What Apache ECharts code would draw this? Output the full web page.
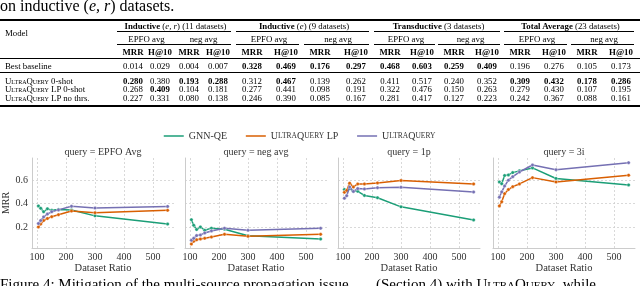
<!DOCTYPE html>
<html><head><meta charset="utf-8">
<script src="https://cdn.jsdelivr.net/npm/echarts/dist/echarts.min.js"></script>
<style>
body{margin:0;width:640px;height:286px;overflow:hidden;background:#fff;position:relative;font-family:'Liberation Serif',serif;color:#000;}
#chart{position:absolute;left:0;top:0;width:640px;height:286px;}
#tbl{position:absolute;left:0;top:0;width:640px;height:286px;}
.t{position:absolute;white-space:nowrap;line-height:10px;transform:translate(-50%,-50%);font-size:8.8px;}
.l{position:absolute;white-space:nowrap;line-height:10px;transform:translate(0,-50%);font-size:8.8px;}
.rule{position:absolute;background:#000;}
.sc{font-variant:small-caps;}
</style></head><body>
<div id="chart"></div>
<div id="tbl"></div>
<script>
// ---------- table data ----------
const tableTitle = 'on inductive (<i>e, r</i>) datasets.';
const groupNames = ['Inductive', 'Inductive', 'Transductive', 'Total Average'];
const groupScopes = ['e, r', 'e', '', ''];
const groupCounts = ['(11 datasets)', '(9 datasets)', '(3 datasets)', '(23 datasets)'];
const subHeaders = ['EPFO avg', 'neg avg', 'EPFO avg', 'neg avg', 'EPFO avg', 'neg avg', 'EPFO avg', 'neg avg'];
const metricHeaders = ['MRR', 'H@10'];
const rowLabels = ['Best baseline', '<span class="sc">UltraQuery</span> 0-shot', '<span class="sc">UltraQuery</span> LP 0-shot', '<span class="sc">UltraQuery</span> LP no thrs.'];
const bestBaseline = [0.014,0.029,0.004,0.007,0.328,0.469,0.176,0.297,0.468,0.603,0.259,0.409,0.196,0.276,0.105,0.173];
const bestBaselineBold = [0,0,0,0,1,1,1,1,1,1,1,1,0,0,0,0];
const uq0shot = [0.280,0.380,0.193,0.288,0.312,0.467,0.139,0.262,0.411,0.517,0.240,0.352,0.309,0.432,0.178,0.286];
const uq0shotBold = [1,0,1,1,0,1,0,0,0,0,0,0,1,1,1,1];
const uqLp0shot = [0.268,0.409,0.104,0.181,0.277,0.441,0.098,0.191,0.322,0.476,0.150,0.263,0.279,0.430,0.107,0.195];
const uqLp0shotBold = [0,1,0,0,0,0,0,0,0,0,0,0,0,0,0,0];
const uqLpNoThrs = [0.227,0.331,0.080,0.138,0.246,0.390,0.085,0.167,0.281,0.417,0.127,0.223,0.242,0.367,0.088,0.161];
const uqLpNoThrsBold = [0,0,0,0,0,0,0,0,0,0,0,0,0,0,0,0];
const captionLeft = 'Figure 4: Mitigation of the multi-source propagation issue';
const captionRight = '(Section 4) with <span class="sc">UltraQuery</span>, while';

// ---------- chart data ----------
const legendNames = ['GNN-QE', 'UltraQuery LP', 'UltraQuery'];
const panelTitles = ['query = EPFO Avg', 'query = neg avg', 'query = 1p', 'query = 3i'];
const datasetRatio = [105, 113, 123, 136, 151, 174, 219, 300, 550];
const gnnqeEpfo = [0.38, 0.36, 0.33, 0.355, 0.343, 0.35, 0.345, 0.295, 0.225];
const lpEpfo    = [0.20, 0.225, 0.255, 0.272, 0.288, 0.305, 0.336, 0.322, 0.342];
const uqEpfo    = [0.229, 0.255, 0.286, 0.31, 0.33, 0.346, 0.377, 0.362, 0.376];
const gnnqeNeg  = [0.262, 0.215, 0.178, 0.2, 0.172, 0.19, 0.18, 0.125, 0.097];
const lpNeg     = [0.054, 0.077, 0.09, 0.097, 0.103, 0.114, 0.137, 0.12, 0.137];
const uqNeg     = [0.086, 0.103, 0.126, 0.131, 0.149, 0.166, 0.189, 0.171, 0.189];
const gnnqe1p   = [0.52, 0.51, 0.53, 0.505, 0.505, 0.47, 0.45, 0.372, 0.26];
const lp1p      = [0.496, 0.513, 0.575, 0.542, 0.568, 0.568, 0.577, 0.597, 0.568];
const uq1p      = [0.446, 0.467, 0.542, 0.504, 0.528, 0.525, 0.536, 0.539, 0.499];
const gnnqe3i   = [0.585, 0.57, 0.64, 0.645, 0.665, 0.68, 0.705, 0.615, 0.56];
const lp3i      = [0.38, 0.415, 0.485, 0.52, 0.545, 0.568, 0.622, 0.585, 0.643];
const uq3i      = [0.455, 0.5, 0.55, 0.6, 0.63, 0.67, 0.73, 0.69, 0.75];

// ---------- table layout ----------
const tbl = document.getElementById('tbl');
const colCenters = [133,160,189,218,252,286,320,356,390,422,454,487,520,554,587,621];
function add(cls, html, x, y, extra) {
  const d = document.createElement('div');
  d.className = cls; d.innerHTML = html;
  d.style.left = x + 'px'; d.style.top = y + 'px';
  if (extra) Object.assign(d.style, extra);
  tbl.appendChild(d); return d;
}
function rule(x1, x2, y, h) {
  const d = document.createElement('div');
  d.className = 'rule';
  d.style.left = x1 + 'px'; d.style.width = (x2 - x1) + 'px';
  d.style.top = (y - h / 2) + 'px'; d.style.height = h + 'px';
  tbl.appendChild(d);
}
add('l', tableTitle, 0, 6, {fontSize: '16px', lineHeight: '16px'});
rule(0, 640, 20, 1.1);
add('l', 'Model', 5, 33);
for (let g = 0; g < 4; g++) {
  const a = colCenters[g * 4], b = colCenters[g * 4 + 3];
  const scope = groupScopes[g] ? ' (<i>' + groupScopes[g] + '</i>)' : '';
  add('t', '<b>' + groupNames[g] + '</b>' + scope + ' ' + groupCounts[g], (a + b) / 2, 25.5);
  rule(a - 16, b + 13, 31, 0.6);
}
for (let s = 0; s < 8; s++) {
  const a = colCenters[s * 2], b = colCenters[s * 2 + 1];
  add('t', subHeaders[s], (a + b) / 2, 38.5);
  rule(a - 16, b + 13, 44.5, 0.6);
}
colCenters.forEach((x, i) => add('t', '<b>' + metricHeaders[i % 2] + '</b>', x, 51.5));
rule(0, 640, 58.3, 0.7);
const rows = [[bestBaseline, bestBaselineBold, 65.5], [uq0shot, uq0shotBold, 80.5], [uqLp0shot, uqLp0shotBold, 89], [uqLpNoThrs, uqLpNoThrsBold, 97.5]];
rows.forEach((r, ri) => {
  add('l', rowLabels[ri], 5, r[2]);
  r[0].forEach((v, i) => {
    const s = v.toFixed(3);
    add('t', r[1][i] ? '<b>' + s + '</b>' : s, colCenters[i], r[2]);
  });
});
rule(0, 640, 72, 0.7);
rule(0, 640, 106, 1.1);
add('l', captionLeft, 0, 284, {fontSize: '15px', lineHeight: '15px'});
add('l', captionRight, 376, 284, {fontSize: '15px', lineHeight: '15px'});

// ---------- chart ----------
const chart = echarts.init(document.getElementById('chart'), null, {renderer: 'canvas'});
const colors = ['#1b9e77', '#d95f02', '#7570b3'];
const panelData = [[gnnqeEpfo, lpEpfo, uqEpfo], [gnnqeNeg, lpNeg, uqNeg], [gnnqe1p, lp1p, uq1p], [gnnqe3i, lp3i, uq3i]];
const lefts = [32, 185, 338, 493];
const gw = 142, gtop = 158, gh = 90;
const textColor = '#333';
const gridLine = {show: true, showMinLine: false, showMaxLine: false, lineStyle: {color: '#d0d0d0', type: [2, 2], width: 0.8}};
const grids = [], xAxes = [], yAxes = [], titles = [], series = [];
lefts.forEach((l, i) => {
  grids.push({left: l, top: gtop, width: gw, height: gh});
  titles.push({text: panelTitles[i], left: l + gw / 2, top: 147, textAlign: 'center', padding: 0,
    textStyle: {fontFamily: 'Liberation Serif', fontSize: 10, fontWeight: 'normal', color: textColor}});
  xAxes.push({type: 'value', gridIndex: i, min: 83, max: 572, splitNumber: 5,
    axisLine: {show: true, lineStyle: {color: '#cccccc', width: 1}}, axisTick: {show: false},
    axisLabel: {fontFamily: 'Liberation Serif', fontSize: 10, color: textColor, margin: 4, showMinLabel: false, showMaxLabel: false},
    splitLine: gridLine,
    name: 'Dataset Ratio', nameLocation: 'middle', nameGap: 14,
    nameTextStyle: {fontFamily: 'Liberation Serif', fontSize: 10.5, color: textColor}});
  yAxes.push({type: 'value', gridIndex: i, min: 0.02, max: 0.79, splitNumber: 4,
    axisLine: {show: true, lineStyle: {color: '#cccccc', width: 1}}, axisTick: {show: false},
    axisLabel: {show: i === 0, fontFamily: 'Liberation Serif', fontSize: 10, color: textColor, margin: 4,
      showMinLabel: false, showMaxLabel: false, formatter: v => v.toFixed(1)},
    splitLine: gridLine,
    name: i === 0 ? 'MRR' : '', nameLocation: 'middle', nameGap: 20,
    nameTextStyle: {fontFamily: 'Liberation Serif', fontSize: 10, color: textColor}});
  panelData[i].forEach((vals, k) => {
    series.push({type: 'line', name: legendNames[k], xAxisIndex: i, yAxisIndex: i,
      data: datasetRatio.map((x, j) => [x, vals[j]]),
      color: colors[k], symbol: 'circle', symbolSize: 3.5, showSymbol: true,
      lineStyle: {width: 1.5, color: colors[k]},
      itemStyle: {color: colors[k], borderColor: '#fff', borderWidth: 0.4},
      emphasis: {disabled: true}, animation: false, z: 2 + k});
  });
});
chart.setOption({
  backgroundColor: 'transparent',
  animation: false,
  title: titles,
  legend: {data: legendNames, left: 158, top: 126, itemWidth: 20, itemHeight: 10, itemGap: 18,
    itemStyle: {opacity: 0}, lineStyle: {width: 1.5, inactiveWidth: 1.5},
    textStyle: {fontFamily: 'Liberation Serif', fontSize: 10, color: textColor,
      rich: {a: {fontFamily: 'Liberation Serif', fontSize: 10, color: textColor}, b: {fontFamily: 'Liberation Serif', fontSize: 7.5, color: textColor}}},
    formatter: n => n === 'GNN-QE' ? n : n.replace('UltraQuery', '{a|U}{b|LTRA}{a|Q}{b|UERY}').replace(' LP', '{a| LP}')},
  grid: grids, xAxis: xAxes, yAxis: yAxes, series: series
});
</script>
</body></html>
